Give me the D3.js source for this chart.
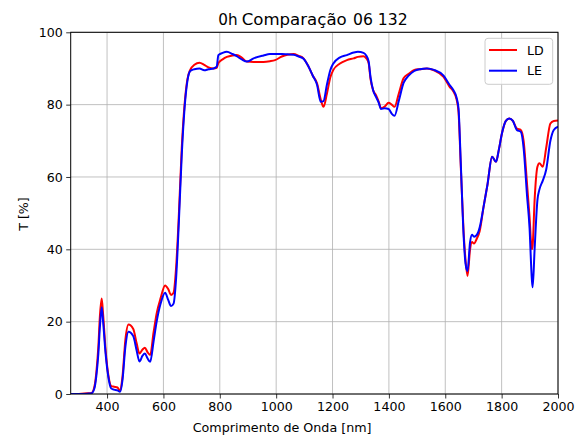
<!DOCTYPE html>
<html><head><meta charset="utf-8">
<script src="https://cdn.jsdelivr.net/npm/d3@7"></script>
<style>body{margin:0;background:#fff}svg{display:block;font-family:"DejaVu Sans",sans-serif}</style>
</head><body><svg id="c" width="585" height="439"></svg>
<script>
const wavelength = [271,300,330,345,355,362,369,375,381,386,395,405,415,425,437,446,455,465,476,493,505,515,526,534,544,553,565,576,590,606,617,627,636,645,655,665,675,685,695,710,728,745,760,778,789,795,810,825,845,860,878,896,920,955,978,996,1020,1040,1062,1080,1097,1115,1130,1145,1158,1168,1180,1192,1203,1225,1251,1275,1290,1310,1320,1328,1335,1344,1355,1364,1372,1385,1399,1410,1420,1435,1452,1470,1490,1510,1535,1560,1594,1615,1629,1640,1647,1655,1665,1672,1679,1688,1695,1702,1712,1722,1736,1750,1766,1780,1790,1801,1815,1827,1840,1854,1868,1878,1890,1899,1907,1910,1917,1927,1934,1946,1958,1973,1985,2000];
const LD = [0,0,0.2,0.3,2,6,13,22,26.4,22,12,5,2.2,2,1.8,0.8,5,15,19.2,18,14,11.2,12.3,12.8,11.5,10.8,17,22.3,26.5,30,29,27.4,28,35,50,68,80,87,89.6,91,91.6,91,90.3,90,90.2,91.5,92.5,93.2,93.6,93.7,93,91.9,91.8,91.8,92,92.3,93.3,93.8,94,93.5,92.8,90.5,88,85.9,81.5,79.4,83,87.5,89.6,91.3,92.3,92.8,93.2,93.4,92.8,91.5,87,84,82.5,80.8,79,79.5,80.5,80,79.4,83,87.3,88.5,89.6,89.8,90,89.5,87.7,85,83.6,81.5,78,63,45,37,32.6,40,42,41.6,43,45,51.8,58,65.6,64.2,67.5,72,75.5,76.2,75.5,73.4,73,70,58.2,49,40,41,53.6,62.8,63.8,62.8,68,74.8,75.5,75.6];
const LE = [0,0,0.1,0.2,1.5,5,11,19,24,20,11,4.5,1.5,1.2,1.0,0.6,4,13,17.2,16,12,9,10.6,11.2,9.8,8.9,14.5,20,25,28,26,24.3,25,32,48,66,79,86.5,89.3,89.8,90,89.5,89.8,90,90.5,93.7,94.3,94.6,94,93.4,92.5,91.9,92.8,93.6,94,94,94,93.9,93.8,93.3,92.7,90.5,88,85.5,80.8,81,85.5,89.5,91.4,93,93.7,94.4,94.6,94.3,93.5,92,87.5,84,82,80.5,78.8,79,78.8,77.5,76.9,81,86,88,89.3,89.8,90,89.6,88,85.5,84,82,79,64,44,36,34,42,44,43.5,44,46,51.8,58,65.6,64.2,67.5,72,75.5,76.2,75.5,73,72.5,68,55,46,32,29.5,40,53.6,56.5,59,62,70,73,73.9];
const xTicks = [400,600,800,1000,1200,1400,1600,1800,2000];
const yTicks = [0,20,40,60,80,100];
const seriesNames = ["LD","LE"];
const seriesColors = ["#ff0000","#0000ff"];

const svg = d3.select("#c");
const L=70.7, R=558, T=32.3, B=394;
const x = d3.scaleLinear().domain([271,2000]).range([L,R]);
const y = d3.scaleLinear().domain([0,100]).range([B,T]);

// grid
const g = svg.append("g");
g.selectAll(".gx").data(xTicks).enter().append("line")
 .attr("x1",d=>x(d)).attr("x2",d=>x(d)).attr("y1",T).attr("y2",B)
 .attr("stroke","#b0b0b0").attr("stroke-width",0.8);
g.selectAll(".gy").data(yTicks).enter().append("line")
 .attr("x1",L).attr("x2",R).attr("y1",d=>y(d)).attr("y2",d=>y(d))
 .attr("stroke","#b0b0b0").attr("stroke-width",0.8);

// lines
const series = [LD, LE];
svg.append("clipPath").attr("id","cp").append("rect").attr("x",L).attr("y",T).attr("width",R-L).attr("height",B-T);
series.forEach((s,i)=>{
  const line = d3.line().x((d,j)=>x(wavelength[j])).y(d=>y(d)).curve(d3.curveMonotoneX);
  svg.append("path").datum(s).attr("d",line).attr("fill","none")
   .attr("stroke",seriesColors[i]).attr("stroke-width",2).attr("stroke-linejoin","round")
   .attr("clip-path","url(#cp)");
});

// axes
const xa = svg.append("g").attr("transform",`translate(0,${B})`)
 .call(d3.axisBottom(x).tickValues(xTicks).tickSize(4.5).tickPadding(3.5).tickFormat(d3.format("d")));
const ya = svg.append("g").attr("transform",`translate(${L},0)`)
 .call(d3.axisLeft(y).tickValues(yTicks).tickSize(4.5).tickPadding(3.5).tickFormat(d3.format("d")));
[xa,ya].forEach(a=>{
  a.select(".domain").remove();
  a.selectAll("text").attr("font-family","DejaVu Sans").attr("font-size","12.6px").attr("fill","#000");
  a.selectAll("line").attr("stroke","#000").attr("stroke-width",0.8);
});
// frame
svg.append("rect").attr("x",L).attr("y",T).attr("width",R-L).attr("height",B-T)
 .attr("fill","none").attr("stroke","#000").attr("stroke-width",1);

// labels
svg.append("text").attr("x",192.7).attr("y",431.5)
 .attr("font-size","12.7px").text("Comprimento de Onda [nm]");
svg.append("text").attr("transform",`translate(27.5,214) rotate(-90)`).attr("text-anchor","middle")
 .attr("font-size","12.6px").text("T [%]");

// title
svg.append("text").attr("x",218.3).attr("y",25).attr("font-size","15.2px").text("0h");
svg.append("text").attr("x",241.7).attr("y",25).attr("font-size","16.6px").text("Comparação");
svg.append("text").attr("x",353).attr("y",25).attr("font-size","15.6px").text("06 132");

// legend
const lg = svg.append("g");
lg.append("rect").attr("x",485).attr("y",38.3).attr("width",67.7).attr("height",46).attr("rx",3)
 .attr("fill","#fff").attr("fill-opacity",0.8).attr("stroke","#cccccc").attr("stroke-width",1);
seriesNames.forEach((n,i)=>{
  const yy = 50 + i*20.7;
  lg.append("line").attr("x1",489).attr("x2",517).attr("y1",yy).attr("y2",yy)
   .attr("stroke",seriesColors[i]).attr("stroke-width",2);
  lg.append("text").attr("x",527).attr("y",yy+4.5).attr("font-size","12.6px").text(n);
});
</script></body></html>
